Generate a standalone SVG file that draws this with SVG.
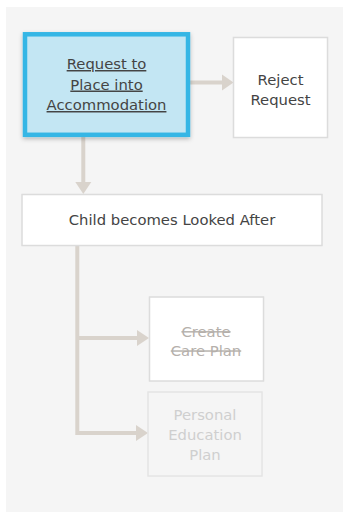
<svg xmlns="http://www.w3.org/2000/svg" width="343" height="512" viewBox="0 0 343 512">
<defs>
<style>
.node{fill:#ffffff;stroke:#dcdcdc;stroke-width:1.5}
.t{font-family:"DejaVu Sans",Verdana,sans-serif;font-size:14.8px;fill:#444;text-anchor:middle}
.dis{fill:#b5b0ab}
.faint{fill:#cfcfcf}
.conn{fill:none;stroke:#d9d3cc;stroke-width:4}
.head{fill:#d9d3cc}
</style>
<filter id="sh" x="-10%" y="-10%" width="130%" height="130%">
<feDropShadow dx="0" dy="2" stdDeviation="2" flood-color="#000" flood-opacity="0.25"/>
</filter>
</defs>
<rect x="0" y="0" width="343" height="512" fill="#ffffff"/>
<rect x="6" y="7" width="337" height="505" fill="#f5f5f5"/>
<g id="connectors">
<path class="conn" d="M190 82.5 H223"/>
<polygon class="head" points="222,74.5 233.5,82.5 222,90.5"/>
<path class="conn" d="M83.3 137 V183"/>
<polygon class="head" points="75.3,182 91.3,182 83.3,194"/>
<path class="conn" d="M77.3 246 V433 H138"/>
<path class="conn" d="M77.3 338 H138"/>
<polygon class="head" points="137,330 149,338 137,346"/>
<polygon class="head" points="136,425 148,433 136,441"/>
</g>
<g id="n-request">
<rect x="25" y="34.3" width="163" height="100.5" fill="#c3e6f3" stroke="#35b6e5" stroke-width="4.5" filter="url(#sh)"/>
<text class="t" x="106.5" y="69"><tspan text-decoration="underline">Request to</tspan></text>
<text class="t" x="106.5" y="89.5" text-decoration="underline">Place into</text>
<text class="t" x="106.5" y="110" text-decoration="underline">Accommodation</text>
</g>
<g id="n-reject">
<rect class="node" x="233.5" y="37.5" width="94" height="100"/>
<text class="t" x="280.5" y="85">Reject</text>
<text class="t" x="280.5" y="104.5">Request</text>
</g>
<g id="n-child">
<rect class="node" x="22" y="194.5" width="300" height="51"/>
<text class="t" x="172" y="225">Child becomes Looked After</text>
</g>
<g id="n-care">
<rect class="node" x="149.5" y="297" width="114" height="84"/>
<text class="t dis" x="206" y="336.5" text-decoration="line-through">Create</text>
<text class="t dis" x="206" y="355.7" text-decoration="line-through">Care Plan</text>
</g>
<g id="n-pep">
<rect x="148" y="392" width="114" height="84" fill="none" stroke="#e4e4e4" stroke-width="1.5"/>
<text class="t faint" x="205" y="420">Personal</text>
<text class="t faint" x="205" y="440">Education</text>
<text class="t faint" x="205" y="460">Plan</text>
</g>
</svg>
